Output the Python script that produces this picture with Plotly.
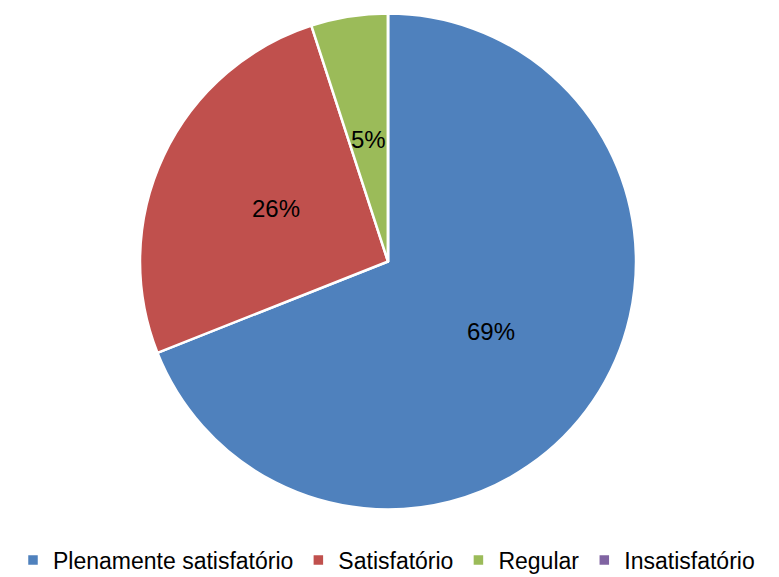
import math
import plotly.graph_objects as go

categories = ["Plenamente satisfatório", "Satisfatório", "Regular", "Insatisfatório"]
values = [69, 26, 5, 0]
colors = ["#4F81BD", "#C0504D", "#9BBB59", "#8064A2"]

W, H = 820, 577
OFF = 8  # page body margin
cx, cy, r = 388 - OFF, 261.5 - OFF, 248

FONT = "Liberation Sans, Arial, sans-serif"

fig = go.Figure(go.Pie(
    labels=categories,
    values=values,
    textinfo="none",
    sort=False,
    direction="clockwise",
    rotation=0,
    marker=dict(colors=colors, line=dict(color="white", width=2.5)),
    domain=dict(x=[(cx - r) / W, (cx + r) / W], y=[1 - (cy + r) / H, 1 - (cy - r) / H]),
    showlegend=True,
    hoverinfo="label+percent",
))

# data labels at half radius along slice bisector (Excel style)
total = sum(values)
cum = 0
for v in values:
    if v > 0:
        mid = (cum + v / 2) / total * 2 * math.pi
        px = cx + 0.5 * r * math.sin(mid)
        py = cy - 0.5 * r * math.cos(mid)
        fig.add_annotation(x=px / W, y=1 - py / H, xref="paper", yref="paper",
                           xanchor="center", yanchor="middle",
                           text=f"{round(v / total * 100)}%", showarrow=False,
                           font=dict(family=FONT, size=24, color="black"))
    cum += v

fig.update_layout(
    width=W, height=H,
    margin=dict(l=0, r=0, t=0, b=0),
    paper_bgcolor="white",
    font=dict(family=FONT, size=23, color="black"),
    legend=dict(orientation="h", x=378.5 / W, xanchor="center", y=25 / H, yanchor="middle",
                font=dict(size=23), itemclick=False),
)

fig.write_html("out.html")
